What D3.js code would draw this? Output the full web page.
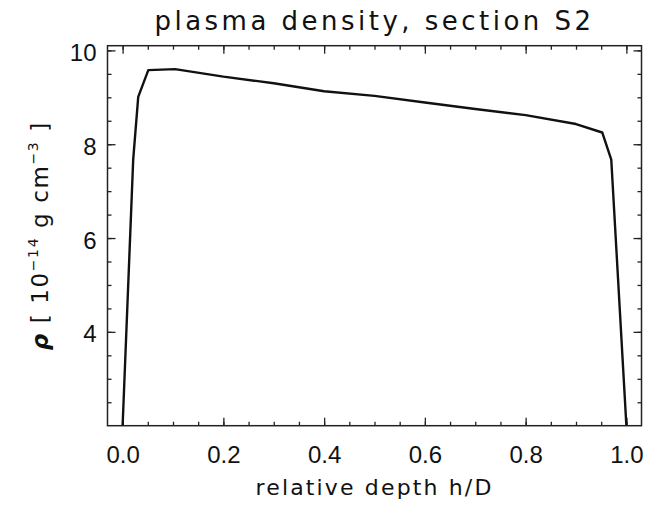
<!DOCTYPE html>
<html>
<head>
<meta charset="utf-8">
<script src="https://cdn.jsdelivr.net/npm/d3@7"></script>
<style>
  body { margin: 0; background: #fff; }
  svg { font-family: 'DejaVu Sans', sans-serif; }
  .tick text { font-size: 24px; fill: #111; }
  .tick line { stroke: #222; stroke-width: 1.3; }
</style>
</head>
<body>
<svg width="651" height="505"></svg>
<script>
// values
const depth   = [0.0, 0.021, 0.031, 0.051, 0.104, 0.2, 0.3, 0.4, 0.5, 0.6, 0.7, 0.8, 0.9, 0.952, 0.970, 1.0];
const density = [2.0, 7.67, 9.01, 9.58, 9.60, 9.44, 9.30, 9.13, 9.03, 8.89, 8.75, 8.62, 8.43, 8.25, 7.67, 2.0];

const xTicks = [0, 0.2, 0.4, 0.6, 0.8, 1.0];
const xMinor = d3.range(0, 1.03, 0.05);
const yTicks = [4, 6, 8, 10];
const yMinor = d3.range(2.5, 10.1, 0.5);

const svg = d3.select('svg');
const margin = { top: 45.7, right: 9.5, bottom: 79.3, left: 107.5 };
const width = +svg.attr('width');
const height = +svg.attr('height');
const innerWidth = width - margin.left - margin.right;
const innerHeight = height - margin.top - margin.bottom;

const data = depth.map((d, i) => ({ h: d, rho: density[i] }));

const xScale = d3.scaleLinear().domain([-0.03, 1.03]).range([0, innerWidth]);
const yScale = d3.scaleLinear().domain([2.0, 10.1]).range([innerHeight, 0]);

const g = svg.append('g')
  .attr('transform', `translate(${margin.left},${margin.top})`);

// unlabelled tick sets (minor ticks everywhere, majors on top/right)
const addTicks = (axis, tr) => {
  const a = g.append('g').attr('transform', tr).call(axis.tickSizeOuter(0));
  a.select('.domain').remove();
  a.selectAll('.tick text').remove();
};
addTicks(d3.axisBottom(xScale).tickValues(xMinor).tickSize(-4), `translate(0,${innerHeight})`);
addTicks(d3.axisTop(xScale).tickValues(xMinor).tickSize(-4), 'translate(0,0)');
addTicks(d3.axisLeft(yScale).tickValues(yMinor).tickSize(-4), 'translate(0,0)');
addTicks(d3.axisRight(yScale).tickValues(yMinor).tickSize(-4), `translate(${innerWidth},0)`);
addTicks(d3.axisTop(xScale).tickValues(xTicks).tickSize(-8), 'translate(0,0)');
addTicks(d3.axisRight(yScale).tickValues(yTicks).tickSize(-8), `translate(${innerWidth},0)`);

// labelled major ticks
const xAxisG = g.append('g')
  .attr('transform', `translate(0,${innerHeight})`)
  .call(d3.axisBottom(xScale).tickValues(xTicks).tickSize(-8).tickSizeOuter(0)
    .tickPadding(20).tickFormat(d3.format('.1f')));
xAxisG.select('.domain').remove();

const yAxisG = g.append('g')
  .call(d3.axisLeft(yScale).tickValues(yTicks).tickSize(-8).tickSizeOuter(0).tickPadding(11));
yAxisG.select('.domain').remove();
yAxisG.selectAll('.tick text').attr('dy', '0.42em');

// frame
g.append('rect')
  .attr('width', innerWidth)
  .attr('height', innerHeight)
  .attr('fill', 'none')
  .attr('stroke', '#222')
  .attr('stroke-width', 1.5);

// curve
g.append('clipPath').attr('id', 'clip')
  .append('rect').attr('width', innerWidth).attr('height', innerHeight);

const line = d3.line()
  .x(d => xScale(d.h))
  .y(d => yScale(d.rho));

g.append('path')
  .datum(data)
  .attr('clip-path', 'url(#clip)')
  .attr('fill', 'none')
  .attr('stroke', '#111')
  .attr('stroke-width', 2.4)
  .attr('stroke-linejoin', 'round')
  .attr('d', line);

// spread letters so a label spans the wanted width
const spread = (sel, target) => {
  const n = sel.text().length;
  const natural = sel.node().getComputedTextLength();
  if (natural < target) sel.attr('letter-spacing', ((target - natural) / n).toFixed(2) + 'px');
};

// title
const title = svg.append('text')
  .attr('x', margin.left + innerWidth / 2)
  .attr('y', 30)
  .attr('text-anchor', 'middle')
  .attr('font-size', 26)
  .attr('fill', '#111')
  .text('plasma density, section S2');
spread(title, 440);

// x label
const xLab = svg.append('text')
  .attr('x', margin.left + innerWidth / 2)
  .attr('y', 495)
  .attr('text-anchor', 'middle')
  .attr('font-size', 22)
  .attr('fill', '#111')
  .text('relative depth h/D');
spread(xLab, 238);

// y label
const yLab = svg.append('text')
  .attr('transform', `translate(48,${margin.top + innerHeight / 2}) rotate(-90)`)
  .attr('text-anchor', 'middle')
  .attr('font-size', 23)
  .attr('fill', '#111');
yLab.append('tspan').attr('font-weight', 'bold').attr('font-style', 'italic').text('ρ');
yLab.append('tspan').text(' [ 10');
yLab.append('tspan').attr('font-size', 14).attr('dy', -10).text('−14');
yLab.append('tspan').attr('dy', 10).text(' g cm');
yLab.append('tspan').attr('font-size', 14).attr('dy', -10).text('−3');
yLab.append('tspan').attr('dy', 10).text(' ]');
spread(yLab, 229);
</script>
</body>
</html>
